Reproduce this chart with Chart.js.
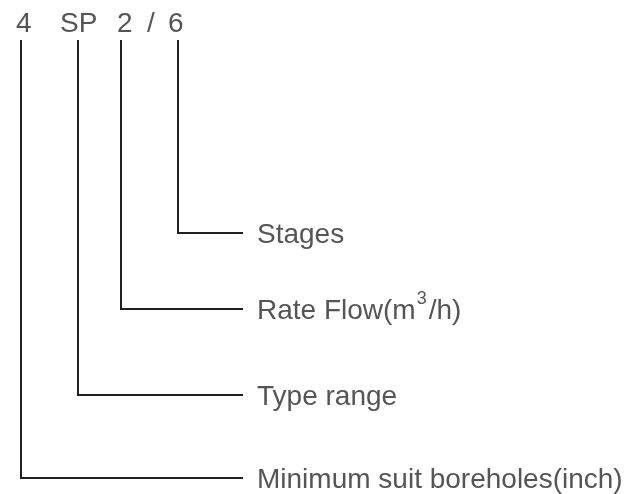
<!DOCTYPE html>
<html>
<head>
<meta charset="utf-8">
<script src="https://cdn.jsdelivr.net/npm/chart.js@4/dist/chart.umd.min.js"></script>
<style>
  html, body { margin: 0; padding: 0; background: #fff; }
  #wrap { width: 633px; height: 494px; }
</style>
</head>
<body>
<div id="wrap"><canvas id="myChart" width="633" height="494"></canvas></div>
<script>
// model code parts across the top and where they sit
var codeParts = ["4", "SP", "2", "/", "6"];
var codeX = [17, 61, 118, 148, 169];
var codeY = 32;

// one leader per part (6, 2, SP, 4), from the top down
var legendText = ["Stages", "Rate Flow(m", "Type range", "Minimum suit boreholes(inch)"];
var stemX = [178, 121, 78, 21];
var levelY = [233, 309, 395, 478];
var stemTop = 40;
var leaderEnd = 243;
var labelX = 257;

var datasets = [];
for (let i = 0; i < stemX.length; i++) {
    datasets.push({
        data: [
            {x: stemX[i], y: stemTop},
            {x: stemX[i], y: levelY[i]},
            {x: leaderEnd, y: levelY[i]}
        ],
        showLine: true,
        borderColor: "#231f20",
        borderWidth: 2,
        pointRadius: 0,
        fill: false,
        tension: 0
    });
}

var textColor = "#555";
var fontSize = 28;
var font = fontSize + "px 'Liberation Sans', Arial, sans-serif";

var textPlugin = {
    id: "texts",
    afterDatasetsDraw(chart) {
        var ctx = chart.ctx;
        var xs = chart.scales.x, ys = chart.scales.y;
        ctx.save();
        ctx.fillStyle = textColor;
        ctx.font = font;
        ctx.textAlign = "left";
        ctx.textBaseline = "alphabetic";

        // top code
        for (let i = 0; i < codeParts.length; i++) {
            ctx.fillText(codeParts[i], xs.getPixelForValue(codeX[i]) - 1, ys.getPixelForValue(codeY));
        }

        // labels
        for (let i = 0; i < legendText.length; i++) {
            var px = xs.getPixelForValue(labelX);
            var py = ys.getPixelForValue(levelY[i]) + fontSize * 0.36;
            ctx.font = font;
            ctx.fillText(legendText[i], px, py);
            if (i == 1) {
                // m3/h superscript
                var w = ctx.measureText(legendText[i]).width;
                ctx.font = "18px 'Liberation Sans', Arial, sans-serif";
                ctx.fillText("3", px + w + 1, py - 15);
                var w2 = ctx.measureText("3").width;
                ctx.font = font;
                ctx.fillText("/h)", px + w + w2 + 3, py);
            }
        }
        ctx.restore();
    }
};

new Chart(document.getElementById("myChart").getContext("2d"), {
    type: "scatter",
    data: { datasets: datasets },
    options: {
        responsive: false,
        animation: false,
        layout: { padding: 0 },
        plugins: { legend: { display: false }, tooltip: { enabled: false } },
        scales: {
            x: { type: "linear", display: false, min: 0, max: 633 },
            y: { type: "linear", display: false, min: 0, max: 494, reverse: true }
        }
    },
    plugins: [textPlugin]
});
</script>
</body>
</html>
